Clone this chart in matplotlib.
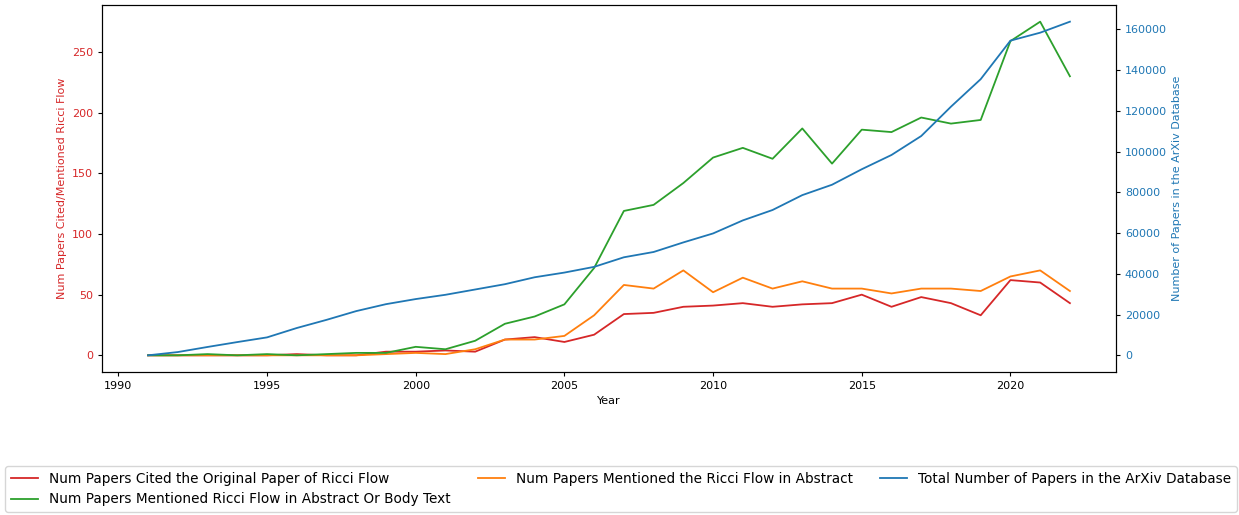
import matplotlib.pyplot as plt
from matplotlib.ticker import MultipleLocator

years = list(range(1991, 2023))

# papers citing the original Ricci flow paper
cited = [0, 0, 0, 0, 0, 1, 0, 0, 3, 3, 4, 3, 13, 15, 11, 17,
         34, 35, 40, 41, 43, 40, 42, 43, 50, 40, 48, 43, 33, 62, 60, 43]
# papers mentioning Ricci flow in abstract
abstract = [0, 0, 0, 0, 0, 0, 0, 0, 1, 2, 1, 5, 13, 13, 16, 33,
            58, 55, 70, 52, 64, 55, 61, 55, 55, 51, 55, 55, 53, 65, 70, 53]
# papers mentioning Ricci flow in abstract or body
body = [0, 0, 1, 0, 1, 0, 1, 2, 2, 7, 5, 12, 26, 32, 42, 72,
        119, 124, 142, 163, 171, 162, 187, 158, 186, 184, 196, 191, 194, 259, 275, 230]
# total arXiv papers per year
total = [0, 1600, 4100, 6500, 8800, 13400, 17400, 21700, 25100, 27600, 29700, 32300,
         34900, 38300, 40600, 43400, 48100, 50700, 55400, 59800, 66200, 71300, 78600,
         83700, 91300, 98300, 107600, 122000, 135500, 154400, 158300, 163700]

plt.rcParams['xtick.labelsize'] = 8
plt.rcParams['ytick.labelsize'] = 8
plt.rcParams['axes.labelsize'] = 8
plt.rcParams['xtick.major.size'] = 2.8
plt.rcParams['ytick.major.size'] = 2.8
plt.rcParams['axes.linewidth'] = 0.8

fig = plt.figure(figsize=(12.39, 5.15), dpi=100)
ax1 = fig.add_axes([102 / 1239, 1 - 372 / 515, (1116 - 102) / 1239, 367 / 515])

lw = 1.3
l1, = ax1.plot(years, cited, color='tab:red', lw=lw, label='Num Papers Cited the Original Paper of Ricci Flow')
l2, = ax1.plot(years, abstract, color='tab:orange', lw=lw, label='Num Papers Mentioned the Ricci Flow in Abstract')
l3, = ax1.plot(years, body, color='tab:green', lw=lw, label='Num Papers Mentioned Ricci Flow in Abstract Or Body Text')
ax1.set_xlabel('Year')
ax1.set_ylabel('Num Papers Cited/Mentioned Ricci Flow', color='tab:red')
ax1.tick_params(axis='y', labelcolor='tab:red')

ax2 = ax1.twinx()
l4, = ax2.plot(years, total, color='tab:blue', lw=lw, label='Total Number of Papers in the ArXiv Database')
ax2.set_ylabel('Number of Papers in the ArXiv Database', color='tab:blue')
ax2.tick_params(axis='y', labelcolor='tab:blue')
ax2.yaxis.set_major_locator(MultipleLocator(20000))

fig.legend(handles=[l1, l3, l2, l4], loc='center', ncol=3, fontsize=9.8,
           bbox_to_anchor=(621 / 1239, 1 - 489 / 515))

fig.savefig('out.png', dpi=100)
